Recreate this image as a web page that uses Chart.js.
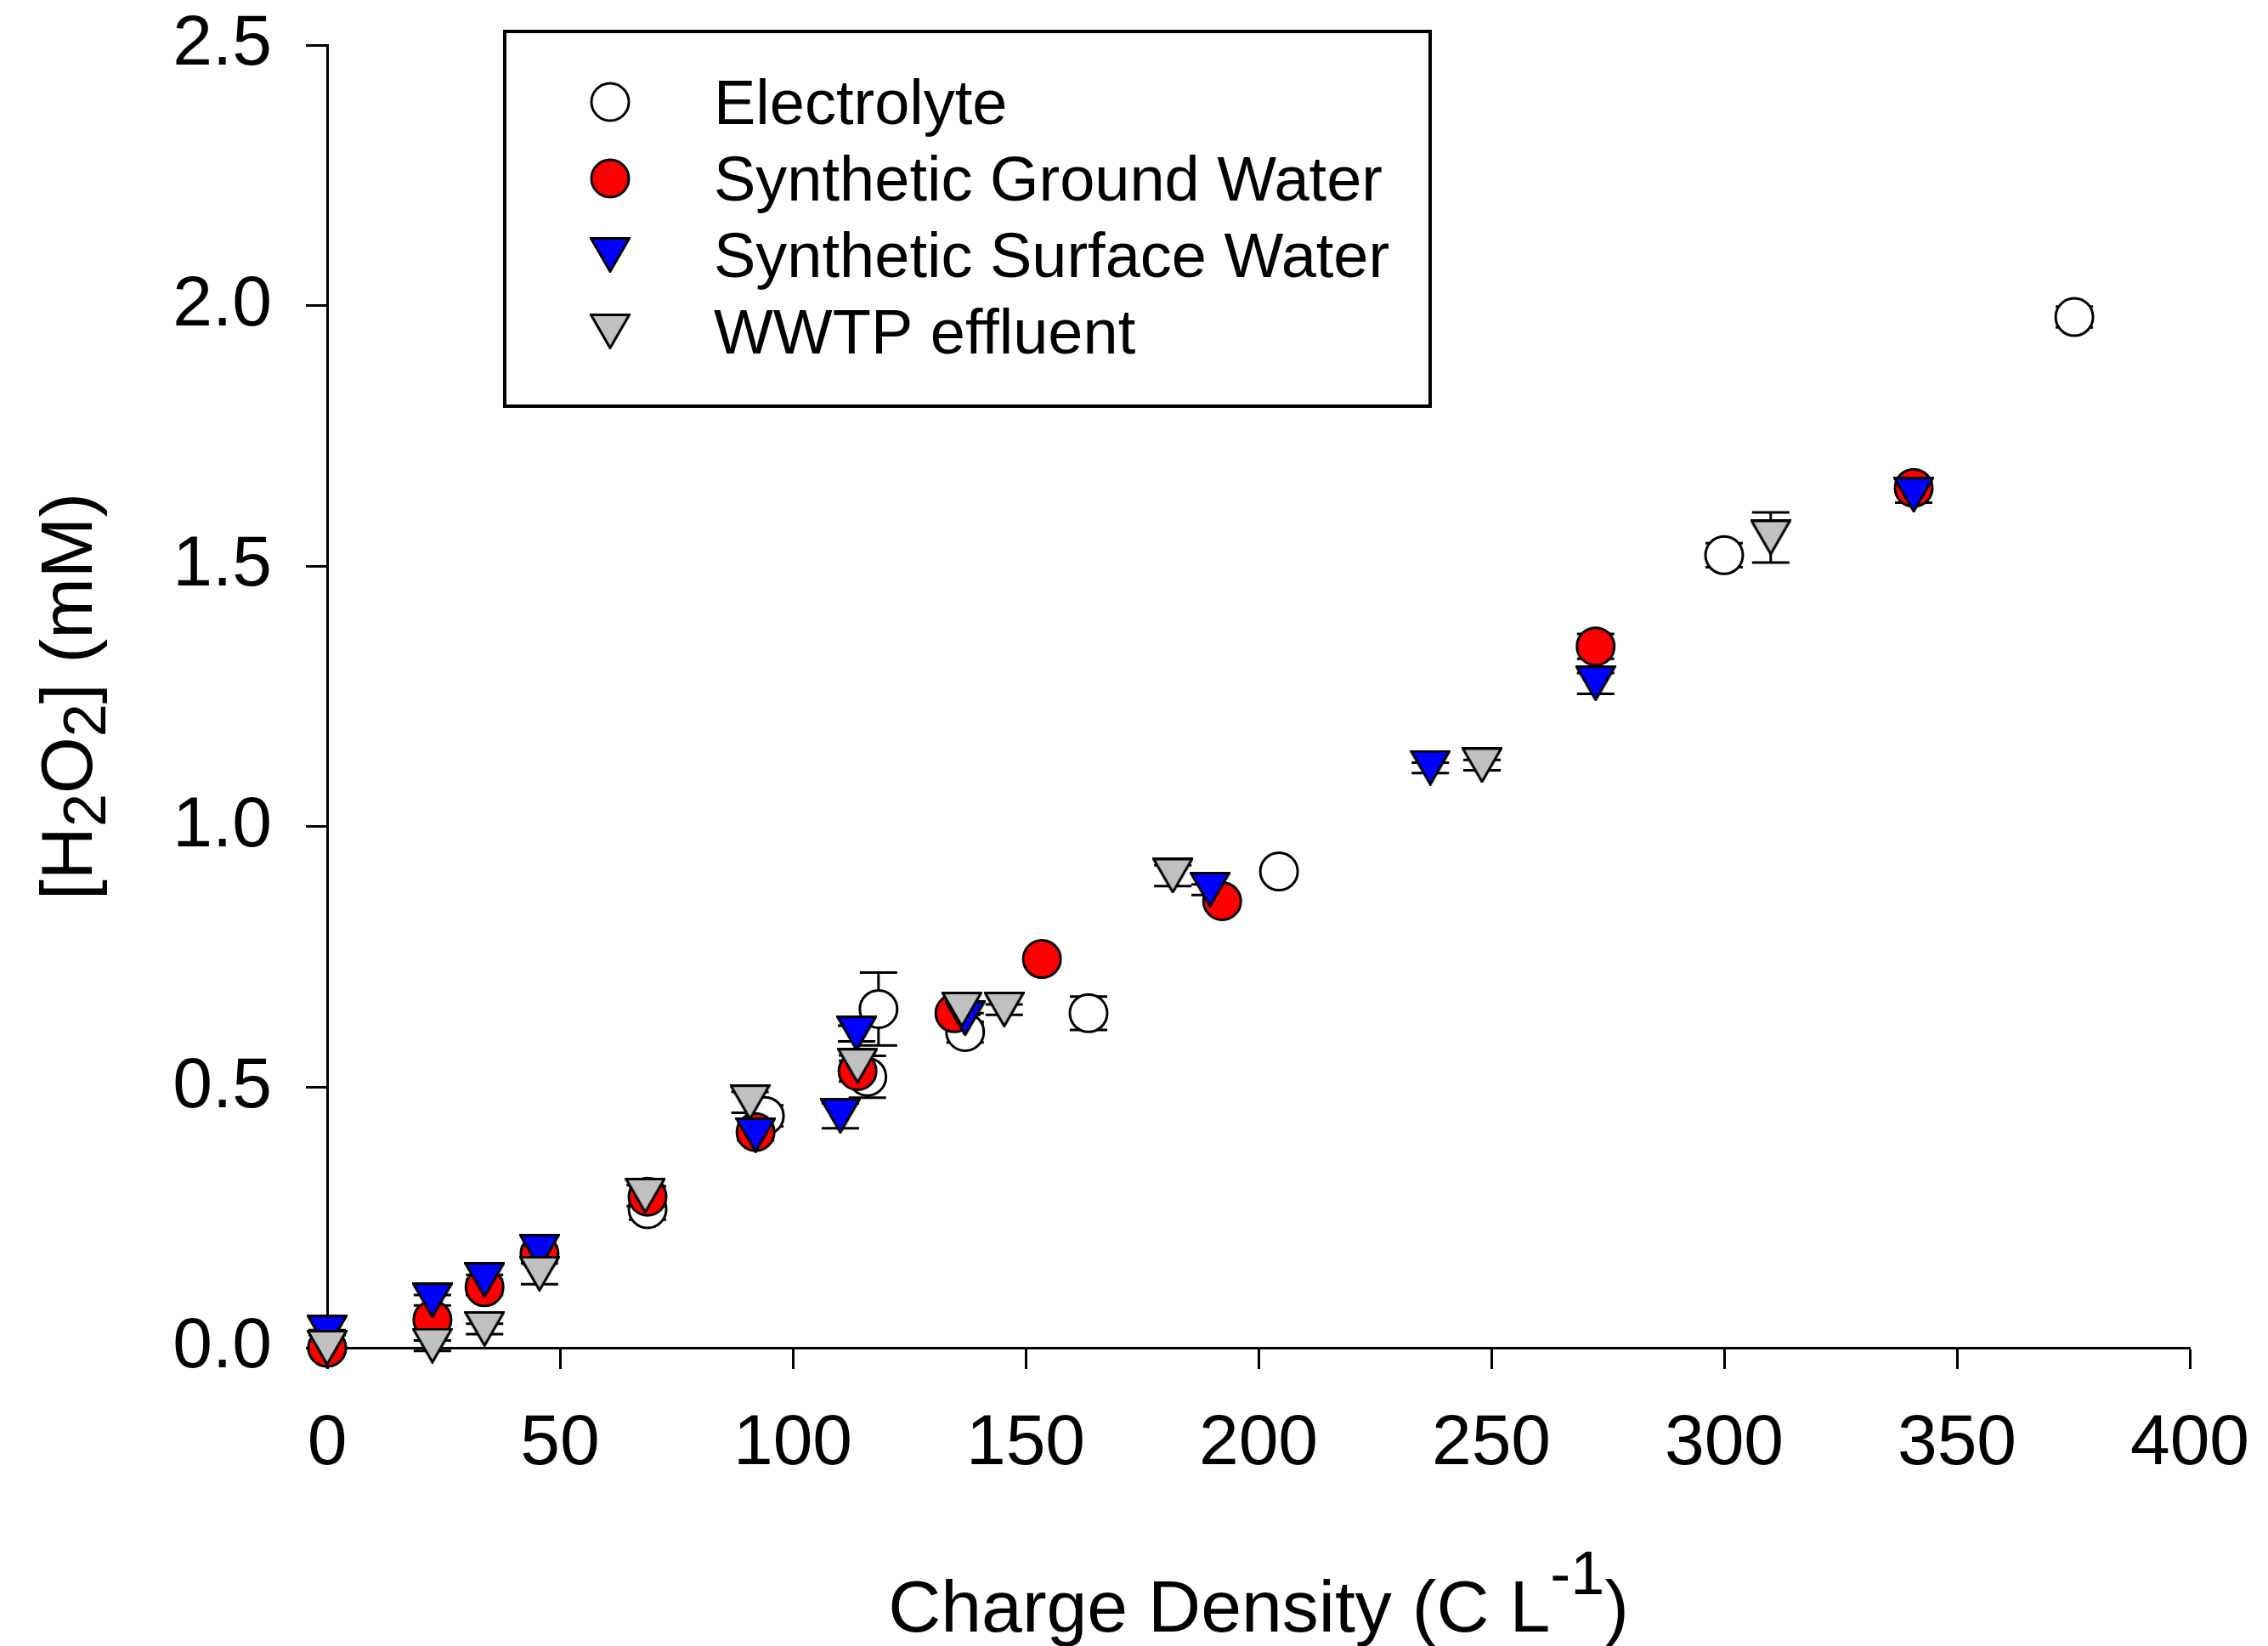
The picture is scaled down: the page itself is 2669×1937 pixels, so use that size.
<!DOCTYPE html>
<html>
<head>
<meta charset="utf-8">
<title>H2O2 vs charge density</title>
<script src="https://cdn.jsdelivr.net/npm/chart.js@4.4.1/dist/chart.umd.min.js"></script>
<style>
  html, body { margin: 0; padding: 0; background: #fff; }
  canvas { display: block; }
</style>
</head>
<body>
<canvas id="chart" width="2669" height="1937"></canvas>
<script>
// values (x = charge density C/L, y = [H2O2] mM, err = +/- bar)
const seriesNames = ["Electrolyte", "Synthetic Ground Water", "Synthetic Surface Water", "WWTP effluent"];

const electrolyteX   = [0, 68.8, 94, 116, 118.4, 137, 163.5, 204.4, 300, 375.2];
const electrolyteY   = [0, 0.266, 0.445, 0.52, 0.650, 0.606, 0.642, 0.914, 1.521, 1.978];
const electrolyteErr = [0.01, 0.02, 0.02, 0.04, 0.07, 0.02, 0.032, 0.01, 0.023, 0.02];

const groundX   = [0, 22.6, 33.8, 45.6, 68.8, 92, 113.9, 134.7, 153.5, 192.2, 272.4, 340.7];
const groundY   = [0, 0.054, 0.116, 0.18, 0.29, 0.414, 0.531, 0.642, 0.746, 0.857, 1.346, 1.650];
const groundErr = [0.01, 0.01, 0.015, 0.01, 0.02, 0.01, 0.02, 0.01, 0.01, 0.01, 0.024, 0.01];

const surfaceX   = [0, 22.6, 33.8, 45.6, 92, 110.2, 113.7, 137, 189.6, 236.9, 272.4, 340.7];
const surfaceY   = [0.029, 0.091, 0.130, 0.184, 0.408, 0.445, 0.603, 0.632, 0.879, 1.113, 1.275, 1.637];
const surfaceErr = [0.005, 0.01, 0.01, 0.01, 0.01, 0.024, 0.015, 0.01, 0.01, 0.01, 0.02, 0.015];

const wwtpX   = [0, 22.6, 33.8, 45.6, 68.3, 90.8, 113.9, 136.3, 145.4, 181.6, 248, 310];
const wwtpY   = [0, 0.004, 0.036, 0.142, 0.292, 0.471, 0.541, 0.649, 0.649, 0.906, 1.118, 1.555];
const wwtpErr = [0.005, 0.01, 0.01, 0.02, 0.02, 0.02, 0.02, 0.01, 0.01, 0.02, 0.01, 0.048];

const xMin = 0, xMax = 400, xStep = 50;
const yMin = 0, yMax = 2.5, yStep = 0.5;

const FONT = "'Liberation Sans', Arial, sans-serif";

function pts(xs, ys) {
    return xs.map((x, i) => ({ x: x, y: ys[i] }));
}

// down triangle symbol, centred on its bounding box like the original plot
function downTriangle(fill) {
    const c = document.createElement("canvas");
    c.width = 48;
    c.height = 42;
    const g = c.getContext("2d");
    g.beginPath();
    g.moveTo(1.5, 1.5);
    g.lineTo(46.5, 1.5);
    g.lineTo(24, 40.5);
    g.closePath();
    g.fillStyle = fill;
    g.fill();
    g.lineWidth = 3;
    g.lineJoin = "miter";
    g.strokeStyle = "#000";
    g.stroke();
    return c;
}

// error bars, drawn under the symbols
const errorBars = {
    id: "errorBars",
    beforeDatasetsDraw(chart) {
        const ctx = chart.ctx;
        const xs = chart.scales.x, ys = chart.scales.y;
        const cap = 22;
        ctx.save();
        ctx.strokeStyle = "#000";
        ctx.lineWidth = 3;
        chart.data.datasets.forEach(ds => {
            ds.data.forEach((p, i) => {
                const e = ds.errors[i];
                if (!e) return;
                const px = xs.getPixelForValue(p.x);
                const top = ys.getPixelForValue(p.y + e);
                const bot = ys.getPixelForValue(p.y - e);
                ctx.beginPath();
                ctx.moveTo(px, top); ctx.lineTo(px, bot);
                ctx.moveTo(px - cap, top); ctx.lineTo(px + cap, top);
                ctx.moveTo(px - cap, bot); ctx.lineTo(px + cap, bot);
                ctx.stroke();
            });
        });
        ctx.restore();
    }
};

function drawMarker(ctx, ds, x, y) {
    if (typeof ds.pointStyle === "object") {
        const img = ds.pointStyle;
        ctx.drawImage(img, x - img.width / 2, y - img.height / 2);
        return;
    }
    ctx.fillStyle = ds.pointBackgroundColor;
    ctx.strokeStyle = ds.pointBorderColor;
    ctx.lineWidth = ds.pointBorderWidth;
    ctx.beginPath();
    ctx.arc(x, y, ds.pointRadius, 0, Math.PI * 2);
    ctx.fill();
    ctx.stroke();
}

// boxed legend inside the plot, top left
const boxLegend = {
    id: "boxLegend",
    afterDraw(chart) {
        const ctx = chart.ctx;
        const area = chart.chartArea;
        const left = area.left + 209, top = area.top - 16;
        ctx.save();
        ctx.fillStyle = "#fff";
        ctx.fillRect(left, top, 1089, 441);
        ctx.strokeStyle = "#000";
        ctx.lineWidth = 4;
        ctx.strokeRect(left, top, 1089, 441);
        chart.data.datasets.forEach((ds, i) => {
            const rowY = top + 83 + i * 90;
            drawMarker(ctx, ds, left + 124, rowY);
            ctx.fillStyle = "#000";
            ctx.font = "74px " + FONT;
            ctx.textAlign = "left";
            ctx.textBaseline = "alphabetic";
            ctx.fillText(seriesNames[i], left + 246, rowY + 26);
        });
        ctx.restore();
    }
};

function drawRuns(ctx, runs, cx, baseline) {
    let total = 0;
    runs.forEach(r => {
        ctx.font = r.size + "px " + FONT;
        r.w = ctx.measureText(r.text).width;
        total += r.w;
    });
    let x = cx - total / 2;
    ctx.textAlign = "left";
    ctx.textBaseline = "alphabetic";
    runs.forEach(r => {
        ctx.font = r.size + "px " + FONT;
        ctx.fillText(r.text, x, baseline + r.dy);
        x += r.w;
    });
}

// axis titles with sub/superscripts
const axisTitles = {
    id: "axisTitles",
    afterDraw(chart) {
        const ctx = chart.ctx;
        const area = chart.chartArea;
        ctx.save();
        ctx.fillStyle = "#000";
        drawRuns(ctx, [
            { text: "Charge Density (C L", size: 86, dy: 0 },
            { text: "-1", size: 72, dy: -44 },
            { text: ")", size: 86, dy: 0 }
        ], (area.left + area.right) / 2, 1920);
        ctx.translate(108, (area.top + area.bottom) / 2);
        ctx.rotate(-Math.PI / 2);
        drawRuns(ctx, [
            { text: "[H", size: 86, dy: 0 },
            { text: "2", size: 70, dy: 16 },
            { text: "O", size: 86, dy: 0 },
            { text: "2", size: 70, dy: 16 },
            { text: "] (mM)", size: 86, dy: 0 }
        ], 0, 0);
        ctx.restore();
    }
};

const tickFont = { family: FONT, size: 84 };

new Chart(document.getElementById("chart"), {
    type: "scatter",
    data: {
        datasets: [
            {
                label: seriesNames[0],
                data: pts(electrolyteX, electrolyteY),
                errors: electrolyteErr,
                pointStyle: "circle",
                pointRadius: 22,
                pointBorderWidth: 3,
                pointBackgroundColor: "#ffffff",
                pointBorderColor: "#000000",
                order: 4,
                clip: false
            },
            {
                label: seriesNames[1],
                data: pts(groundX, groundY),
                errors: groundErr,
                pointStyle: "circle",
                pointRadius: 22,
                pointBorderWidth: 3,
                pointBackgroundColor: "#ff0000",
                pointBorderColor: "#000000",
                order: 3,
                clip: false
            },
            {
                label: seriesNames[2],
                data: pts(surfaceX, surfaceY),
                errors: surfaceErr,
                pointStyle: downTriangle("#0000ff"),
                pointRadius: 24,
                order: 2,
                clip: false
            },
            {
                label: seriesNames[3],
                data: pts(wwtpX, wwtpY),
                errors: wwtpErr,
                pointStyle: downTriangle("#c0c0c0"),
                pointRadius: 24,
                order: 1,
                clip: false
            }
        ]
    },
    options: {
        responsive: false,
        animation: false,
        devicePixelRatio: 1,
        layout: { padding: { top: 53, right: 92, left: 0, bottom: 0 } },
        plugins: {
            legend: { display: false },
            tooltip: { enabled: false }
        },
        scales: {
            x: {
                type: "linear",
                min: xMin,
                max: xMax,
                ticks: { stepSize: xStep, font: tickFont, color: "#000", padding: 38, maxRotation: 0 },
                grid: { drawOnChartArea: false, drawTicks: true, tickLength: 25, tickWidth: 3, tickColor: "#000" },
                border: { display: true, color: "#000", width: 3 },
                afterFit(scale) {
                    scale.height = 351;
                    scale.paddingLeft = 0;
                    scale.paddingRight = 0;
                }
            },
            y: {
                type: "linear",
                min: yMin,
                max: yMax,
                ticks: { stepSize: yStep, font: tickFont, color: "#000", padding: 40, callback: v => v.toFixed(1) },
                grid: { drawOnChartArea: false, drawTicks: true, tickLength: 25, tickWidth: 3, tickColor: "#000" },
                border: { display: true, color: "#000", width: 3 },
                afterFit(scale) {
                    scale.width = 385;
                    scale.paddingTop = 0;
                    scale.paddingBottom = 0;
                }
            }
        }
    },
    plugins: [errorBars, boxLegend, axisTitles]
});
</script>
</body>
</html>
